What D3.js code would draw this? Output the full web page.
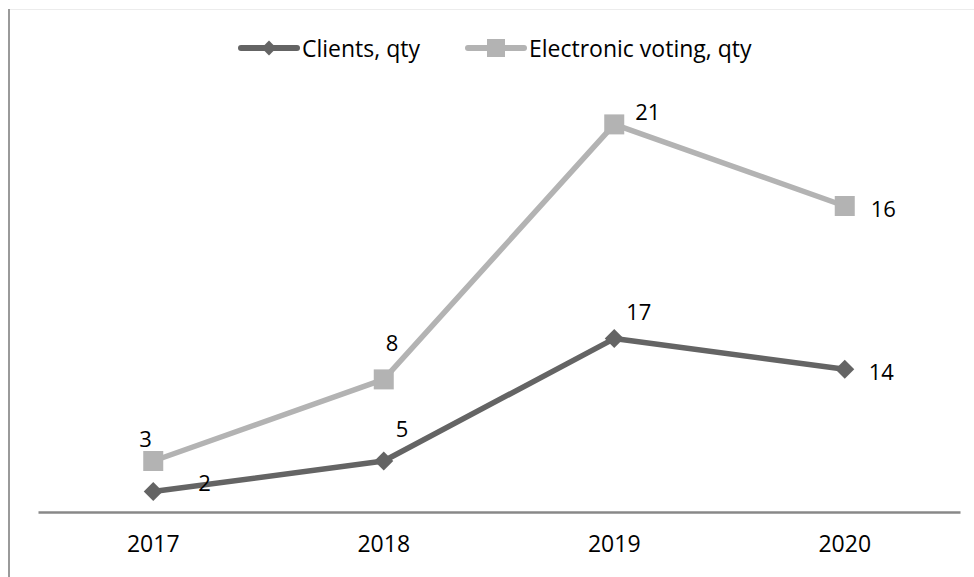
<!DOCTYPE html>
<html>
<head>
<meta charset="utf-8">
<script src="https://cdn.jsdelivr.net/npm/d3@7/dist/d3.min.js"></script>
<style>
  html, body { margin: 0; padding: 0; background: #fff; }
  svg { display: block; font-family: "Open Sans", "Noto Sans", sans-serif; }
</style>
</head>
<body>
<svg id="chart" width="974" height="577"></svg>
<script>
// Yearly figures
const years = ["2017", "2018", "2019", "2020"];
const clients = [2, 5, 17, 14];
const electronicVoting = [3, 8, 21, 16];
const seriesNames = ["Clients, qty", "Electronic voting, qty"];

const W = 974, H = 577;
const svg = d3.select("#chart");

const dark = "#646464", light = "#b3b3b3";
const plot = { left: 38, right: 960, top: 104, bottom: 512 };

// frame edges
svg.append("line").attr("x1", 9).attr("x2", W).attr("y1", 9.5).attr("y2", 9.5)
  .attr("stroke", "#ececec").attr("stroke-width", 1);
svg.append("line").attr("x1", 9).attr("x2", 9).attr("y1", 9).attr("y2", H)
  .attr("stroke", "#9a9a9a").attr("stroke-width", 2);

const x = d3.scaleBand().domain(years).range([plot.left, plot.right]);
const y = d3.scaleLinear().domain([0, 40]).range([plot.bottom, plot.top]);

// stacked: second series sits on top of the first
const stacked = d3.stack().keys(["c", "e"])(years.map((yr, i) => ({ c: clients[i], e: electronicVoting[i] })));

const xc = yr => x(yr) + x.bandwidth() / 2;

// category axis
const axis = svg.append("g").attr("transform", `translate(0,${plot.bottom})`)
  .call(d3.axisBottom(x).tickSize(0).tickPadding(24));
axis.select(".domain").attr("stroke", "#888").attr("stroke-width", 2.5);
axis.selectAll("text").attr("font-size", 23).attr("fill", "#000")
  .attr("font-family", "'Open Sans', sans-serif");

const line = d3.line().x((d, i) => xc(years[i])).y(d => y(d[1]));

// label offsets relative to each point
const series = [
  { vals: clients, layer: stacked[0], color: dark, marker: "diamond",
    dx: [45, 12, 12, 24], dy: [-10, -33, -28, 2] },
  { vals: electronicVoting, layer: stacked[1], color: light, marker: "square",
    dx: [-14, 2, 21, 26], dy: [-23, -37, -13, 2] }
];

series.forEach(s => {
  svg.append("path").datum(s.layer).attr("d", line)
    .attr("fill", "none").attr("stroke", s.color).attr("stroke-width", 5.5)
    .attr("stroke-linejoin", "round");
  s.layer.forEach((d, i) => {
    const cx = xc(years[i]), cy = y(d[1]);
    if (s.marker === "square") {
      svg.append("rect").attr("x", cx - 10).attr("y", cy - 10)
        .attr("width", 20).attr("height", 20).attr("fill", s.color);
    } else {
      svg.append("path").attr("transform", `translate(${cx},${cy}) rotate(45)`)
        .attr("d", d3.symbol(d3.symbolSquare, 180)()).attr("fill", s.color);
    }
  });
  s.layer.forEach((d, i) => {
    svg.append("text").attr("x", xc(years[i]) + s.dx[i]).attr("y", y(d[1]) + s.dy[i])
      .attr("dominant-baseline", "central").attr("font-size", 22).attr("fill", "#000")
      .text(s.vals[i]);
  });
});

// legend
const legend = [
  { name: seriesNames[0], color: dark, marker: "diamond", x0: 241 },
  { name: seriesNames[1], color: light, marker: "square", x0: 468 }
];
legend.forEach(l => {
  const g = svg.append("g").attr("transform", `translate(${l.x0},48)`);
  g.append("line").attr("x1", 0).attr("x2", 56).attr("stroke", l.color)
    .attr("stroke-width", 6).attr("stroke-linecap", "round");
  if (l.marker === "square") {
    g.append("rect").attr("x", 19).attr("y", -9).attr("width", 18).attr("height", 18).attr("fill", l.color);
  } else {
    g.append("path").attr("transform", "translate(28,0) rotate(45)")
      .attr("d", d3.symbol(d3.symbolSquare, 110)()).attr("fill", l.color);
  }
  g.append("text").attr("x", 61).attr("y", 0).attr("dominant-baseline", "central")
    .attr("font-size", 23).attr("fill", "#000").text(l.name);
});
</script>
</body>
</html>
